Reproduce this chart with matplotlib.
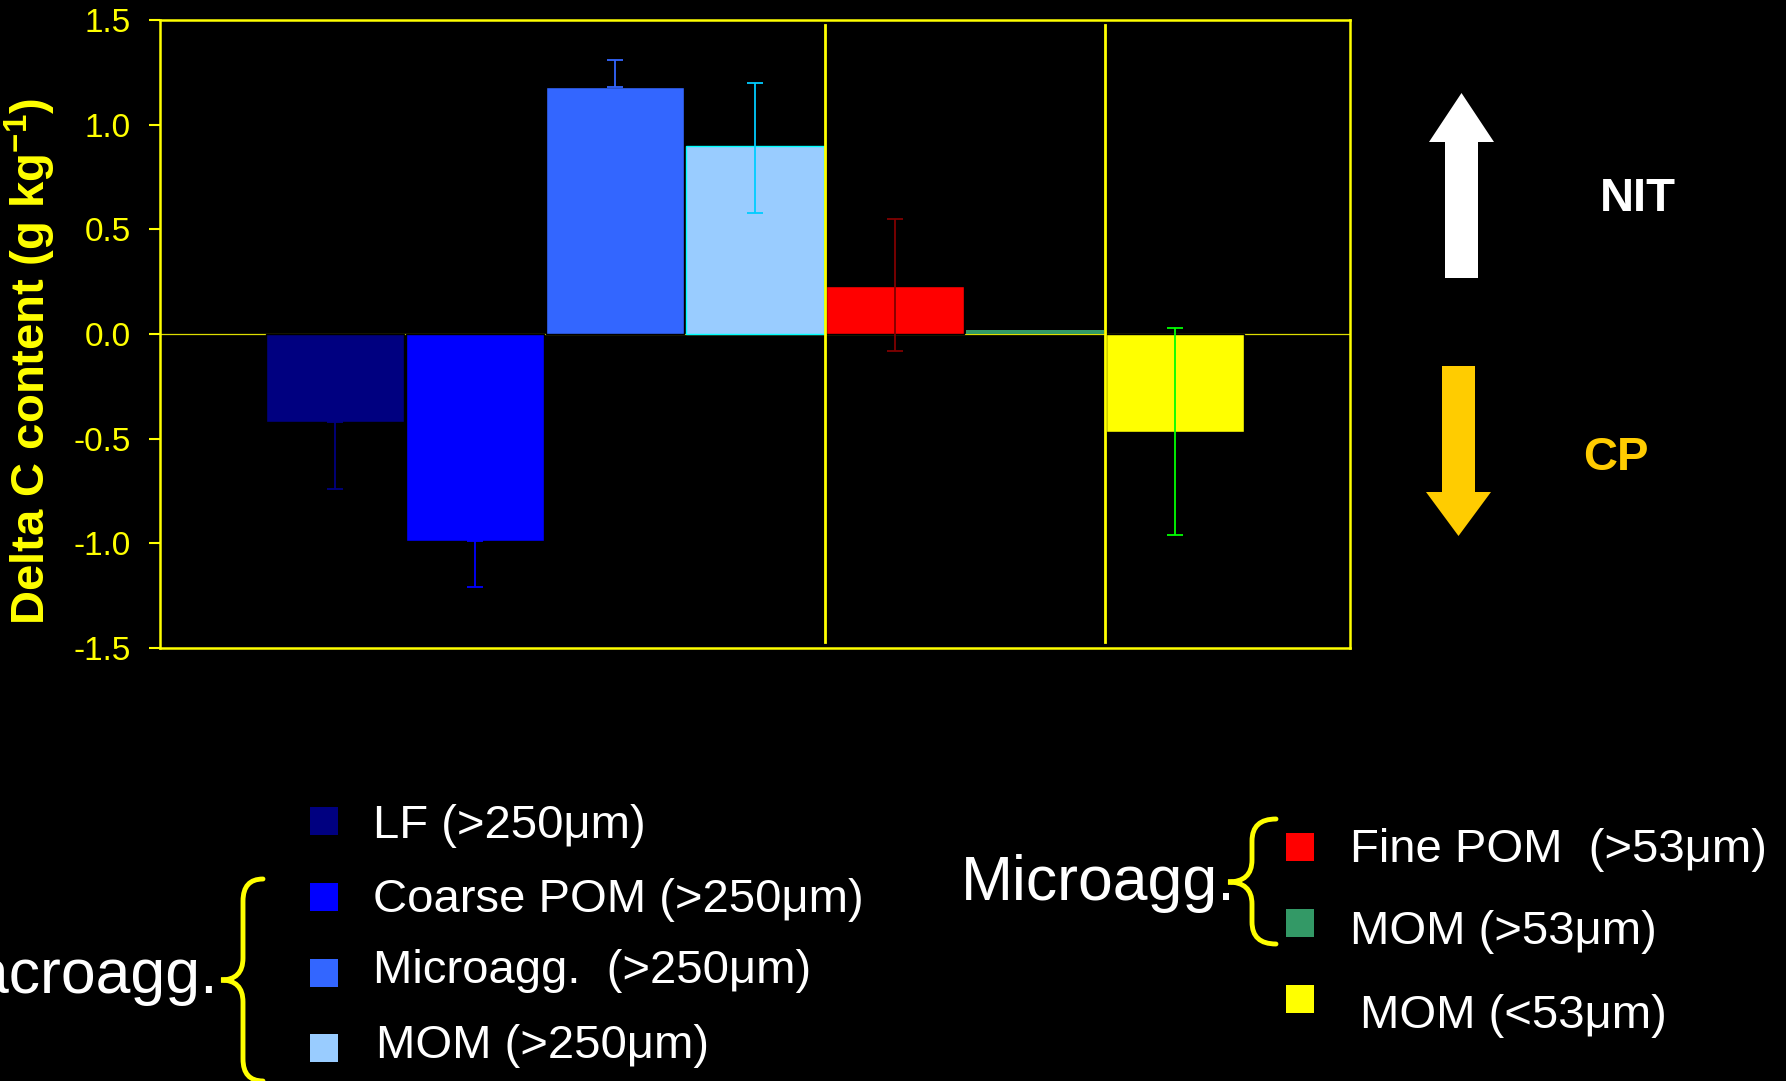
import numpy as np
import matplotlib
matplotlib.use("Agg")
import matplotlib.pyplot as plt
import matplotlib.patches as mpatches
from matplotlib.path import Path
from matplotlib.ticker import FormatStrFormatter

# values
fractions = ["LF (>250\u03bcm)", "Coarse POM (>250\u03bcm)", "Microagg.  (>250\u03bcm)", "MOM (>250\u03bcm)",
             "Fine POM  (>53\u03bcm)", "MOM (>53\u03bcm)", "MOM (<53\u03bcm)"]
delta_c = [-0.42, -0.99, 1.18, 0.90, 0.23, 0.02, -0.47]
err_low = [0.32, 0.22, 0.0, 0.32, 0.31, 0.0, 0.49]
err_high = [0.0, 0.0, 0.13, 0.30, 0.32, 0.0, 0.50]
group_breaks = [3.5, 5.5]
yticks = [-1.5, -1.0, -0.5, 0.0, 0.5, 1.0, 1.5]

bar_colors = ["#000080", "#0000FF", "#3366FF", "#99CCFF", "#FF0000", "#339966", "#FFFF00"]
err_colors = ["#000080", "#0000FF", "#3366FF", "#00CCFF", "#800000", None, "#00FF00"]
bar_edges = ["black", "black", "black", "#00FFFF", "black", "none", "black"]

YEL = "#FFFF00"
GOLD = "#FFCC00"
W, H = 1786, 1081

plt.rcParams["font.family"] = ["Liberation Sans", "DejaVu Sans"]
plt.rcParams["mathtext.fontset"] = "custom"
plt.rcParams["mathtext.rm"] = "Liberation Sans:bold"
plt.rcParams["mathtext.default"] = "rm"

fig = plt.figure(figsize=(W / 100, H / 100), dpi=100, facecolor="black")
ax = fig.add_axes([160 / W, 1 - 648 / H, 1190 / W, 628 / H])
ax.set_facecolor("black")

x = np.arange(len(delta_c))
ax.bar(x, delta_c, width=0.99, color=bar_colors, edgecolor=bar_edges, linewidth=1, zorder=2)

for i in range(len(x)):
    if err_colors[i] is None:
        continue
    ax.errorbar(x[i], delta_c[i], yerr=[[err_low[i]], [err_high[i]]], fmt="none",
                ecolor=err_colors[i], elinewidth=1.3, capsize=6, capthick=1.3, zorder=3)

ax.axhline(0, color="#DDDD00", linewidth=0.9, zorder=1)
for xb in group_breaks:
    ax.axvline(xb, ymin=0.01, ymax=0.992, color=YEL, linewidth=2, zorder=4)

ax.set_xlim(-1.25, 7.25)
ax.set_ylim(-1.5, 1.5)
ax.set_yticks(yticks)
ax.yaxis.set_major_formatter(FormatStrFormatter("%.1f"))
ax.set_xticks([])
ax.tick_params(axis="y", colors=YEL, labelsize=24, length=8, width=1.5, pad=13)
for s in ax.spines.values():
    s.set_color(YEL)
    s.set_linewidth(1.8)

ax.set_ylabel("Delta C content (g kg$^{-1}$)", color=YEL, fontsize=34, fontweight="bold")
ax.yaxis.set_label_coords(-0.086, 0.456)


def px(xp, yp):
    return (xp / W, 1 - yp / H)


def arrow(cx, tip, base, tail, sw, hw, color):
    pts = [(cx, tip), (cx + hw / 2, base), (cx + sw / 2, base), (cx + sw / 2, tail),
           (cx - sw / 2, tail), (cx - sw / 2, base), (cx - hw / 2, base)]
    fig.patches.append(mpatches.Polygon([px(a, b) for a, b in pts], closed=True,
                                        transform=fig.transFigure, facecolor=color, edgecolor="none"))


def brace(x_tip, x_body, x_end, y_top, y_mid, y_bot, color):
    d = 22
    verts = [(x_end, y_top), (x_body, y_top), (x_body, y_top + d),
             (x_body, y_mid - d), (x_body, y_mid), (x_tip, y_mid),
             (x_body, y_mid), (x_body, y_mid + d),
             (x_body, y_bot - d), (x_body, y_bot), (x_end, y_bot)]
    codes = [Path.MOVETO, Path.CURVE3, Path.CURVE3,
             Path.LINETO, Path.CURVE3, Path.CURVE3,
             Path.CURVE3, Path.CURVE3,
             Path.LINETO, Path.CURVE3, Path.CURVE3]
    path = Path([px(a, b) for a, b in verts], codes)
    fig.patches.append(mpatches.PathPatch(path, transform=fig.transFigure, facecolor="none",
                                          edgecolor=color, linewidth=3.5, capstyle="round"))


# NIT / CP arrows
arrow(1461.5, 93, 142, 278, 33, 65, "white")
arrow(1458.5, 536, 492, 366, 33, 65, GOLD)
fig.text(*px(1638, 199), "NIT", color="white", fontsize=34, fontweight="bold", ha="center", va="center")
fig.text(*px(1616, 458), "CP", color=GOLD, fontsize=34, fontweight="bold", ha="center", va="center")

# hand-made legend
sq_x = [310, 310, 310, 310, 1286, 1286, 1286]
sq_y = [821, 897, 973, 1048, 847, 923, 999]
txt_x = [373, 373, 373, 376, 1350, 1350, 1360]
txt_base = [838, 912, 983, 1058, 862, 944, 1028]
sq = 28
for i, lab in enumerate(fractions):
    x0, y0 = px(sq_x[i], sq_y[i] + sq / 2)
    fig.patches.append(mpatches.Rectangle((x0, y0), sq / W, sq / H, transform=fig.transFigure,
                                          facecolor=bar_colors[i], edgecolor="none"))
    fig.text(*px(txt_x[i], txt_base[i]), lab, color="white", fontsize=34, ha="left", va="baseline")

fig.text(*px(218, 993), "Macroagg.", color="white", fontsize=45, ha="right", va="baseline")
brace(221, 243, 263, 879, 980, 1081, YEL)
fig.text(*px(961, 900), "Microagg.", color="white", fontsize=45, ha="left", va="baseline")
brace(1228, 1252, 1276, 819, 882, 944, YEL)

fig.savefig("out.png", dpi=100, facecolor="black")
